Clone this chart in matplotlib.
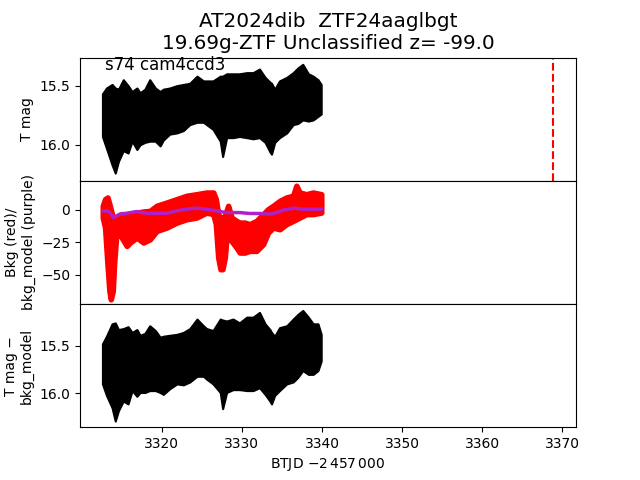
import matplotlib
matplotlib.use("Agg")
import matplotlib.pyplot as plt
import numpy as np

# light curve envelope (BTJD - 2457000, mag)
t_lc = [3312.6, 3313.1, 3313.8, 3314.2, 3314.6, 3315.2, 3315.8, 3316.3, 3316.9,
        3317.3, 3317.9, 3318.5, 3319.2, 3319.8, 3320.2, 3321.0, 3321.9, 3322.7,
        3323.5, 3324.4, 3325.2, 3325.6, 3326.4, 3327.3, 3327.6, 3328.1, 3328.9,
        3329.7, 3330.6, 3331.4, 3332.2, 3332.9, 3333.5, 3333.7, 3334.1, 3334.7,
        3335.6, 3336.4, 3337.0, 3337.6, 3338.3, 3338.9, 3339.5, 3339.9]
mag_hi = [15.57, 15.52, 15.49, 15.52, 15.53, 15.45, 15.50, 15.55, 15.52,
          15.56, 15.53, 15.45, 15.52, 15.55, 15.53, 15.52, 15.50, 15.49,
          15.48, 15.42, 15.46, 15.46, 15.46, 15.42, 15.42, 15.40, 15.40,
          15.40, 15.39, 15.39, 15.36, 15.43, 15.47, 15.48, 15.53, 15.46,
          15.43, 15.39, 15.35, 15.32, 15.40, 15.42, 15.45, 15.49]
mag_lo = [15.93, 16.03, 16.17, 16.24, 16.14, 16.05, 16.07, 15.97, 16.04,
          16.00, 15.98, 15.97, 15.97, 16.01, 15.96, 15.91, 15.90, 15.88,
          15.83, 15.81, 15.81, 15.83, 15.87, 15.97, 16.10, 15.94, 15.94,
          15.93, 15.94, 15.95, 15.94, 15.98, 16.06, 16.08, 15.98, 15.94,
          15.90, 15.83, 15.82, 15.79, 15.80, 15.79, 15.76, 15.74]

# background-subtracted light curve envelope
sub_hi = [15.48, 15.40, 15.27, 15.26, 15.33, 15.32, 15.30, 15.36, 15.33,
          15.39, 15.37, 15.29, 15.34, 15.41, 15.40, 15.39, 15.38, 15.36,
          15.32, 15.22, 15.29, 15.32, 15.34, 15.22, 15.23, 15.24, 15.22,
          15.26, 15.20, 15.20, 15.15, 15.27, 15.33, 15.36, 15.40, 15.31,
          15.29, 15.22, 15.17, 15.13, 15.20, 15.27, 15.27, 15.38]
sub_lo = [15.90, 16.02, 16.15, 16.29, 16.18, 16.08, 16.11, 15.97, 16.03,
          15.99, 15.99, 15.97, 15.97, 15.99, 16.01, 15.95, 15.90, 15.91,
          15.88, 15.82, 15.82, 15.85, 15.90, 15.99, 16.16, 15.99, 15.96,
          15.96, 15.97, 15.97, 15.94, 16.01, 16.08, 16.11, 16.02, 15.97,
          15.90, 15.88, 15.83, 15.76, 15.80, 15.80, 15.76, 15.66]

# background flux envelope
t_bkg = [3312.64, 3312.93, 3313.23, 3313.47, 3313.64, 3313.89, 3314.05, 3314.30,
         3314.60, 3315.01, 3315.63, 3316.04, 3316.87, 3317.71, 3318.53, 3319.36,
         3320.61, 3321.86, 3323.10, 3324.35, 3325.59, 3326.43, 3326.75, 3327.05,
         3327.33, 3327.58, 3327.87, 3328.08, 3328.29, 3328.71, 3329.33, 3329.74,
         3330.36, 3330.98, 3331.82, 3332.65, 3333.27, 3333.90, 3334.72, 3335.55,
         3336.39, 3336.80, 3337.21, 3338.04, 3338.88, 3339.91]
bkg_hi = [2.9, 8.0, 9.3, 4.1, 0.0, -6.1, -8.7, -8.7,
          -4.8, -3.5, -4.0, -4.8, -2.3, -1.5, -1.0, 2.9,
          5.4, 8.0, 10.6, 11.8, 13.1, 13.1, 8.0, -3.5,
          -6.1, -8.7, -4.8, -1.0, 2.9, -6.1, -8.7, -10.0,
          -10.0, -11.2, -8.7, -3.5, 0.3, 2.9, 6.7, 9.3,
          10.6, 18.3, 13.1, 11.8, 13.1, 11.8]
bkg_lo = [-6.1, -13.8, -42.0, -62.5, -68.9, -62.5, -42.0, -21.5,
          -16.4, -21.5, -27.9, -25.3, -21.5, -25.3, -22.8, -16.4,
          -13.8, -10.0, -7.4, -6.1, -2.3, -3.5, -11.2, -36.9,
          -45.8, -45.8, -36.9, -21.5, -20.0, -24.1, -29.2, -33.0,
          -33.0, -31.7, -31.7, -26.6, -17.6, -13.8, -15.1, -11.2,
          -8.7, -7.4, -6.1, -3.5, -3.5, -2.3]

# background model
t_model = [3312.73, 3313.14, 3313.55, 3313.97, 3314.38, 3314.79, 3315.63, 3316.87,
           3318.12, 3319.36, 3320.61, 3321.86, 3323.10, 3324.35, 3325.59, 3326.84,
           3328.08, 3329.74, 3330.98, 3332.23, 3333.47, 3334.31, 3335.14, 3336.39,
           3337.63, 3338.88, 3339.91]
bkg_model = [-1.0, -1.0, -2.3, -6.1, -4.8, -3.5, -2.8, -1.5,
             -2.8, -2.8, -2.8, -1.0, 0.3, 1.1, 0.3, -1.0,
             -2.3, -2.3, -3.0, -3.0, -3.5, -2.3, -0.5, 1.1,
             0.3, 0.3, 0.3]

t_discovery = 3368.84

fig, (ax1, ax2, ax3) = plt.subplots(3, 1, sharex=True, figsize=(6.4, 4.8), dpi=100)
fig.subplots_adjust(hspace=0)

ax1.fill_between(t_lc, mag_hi, mag_lo, color="k", lw=1.5)
ax1.axvline(t_discovery, color="r", ls="--", lw=1.5)
ax1.set_ylim(16.305, 15.263)
ax1.set_yticks([15.5, 16.0])
ax1.set_ylabel("T mag")
ax1.text(0.05, 0.9, "s74 cam4ccd3", transform=ax1.transAxes, fontsize=12)
ax1.set_title("AT2024dib  ZTF24aaglbgt\n19.69g-ZTF Unclassified z= -99.0", fontsize=14.4)

ax2.fill_between(t_bkg, bkg_hi, bkg_lo, color="r", lw=4, joinstyle="round")
ax2.plot(t_model, bkg_model, color="#b020c8", lw=2.5, solid_joinstyle="round")
ax2.set_ylim(-72.5, 22.1)
ax2.set_yticks([0, -25, -50])
ax2.set_ylabel("Bkg (red)/\nbkg_model (purple)")

ax3.fill_between(t_lc, sub_hi, sub_lo, color="k", lw=1.5)
ax3.set_ylim(16.354, 15.062)
ax3.set_yticks([15.5, 16.0])
ax3.set_ylabel("T mag \u2212\nbkg_model")
ax3.set_xlabel("BTJD $-2\\,457\\,000$")
ax3.set_xlim(3309.8, 3371.7)
ax3.set_xticks([3320, 3330, 3340, 3350, 3360, 3370])

for ax in (ax1, ax2):
    ax.tick_params(axis="x", length=0)

fig.savefig("out.png")
